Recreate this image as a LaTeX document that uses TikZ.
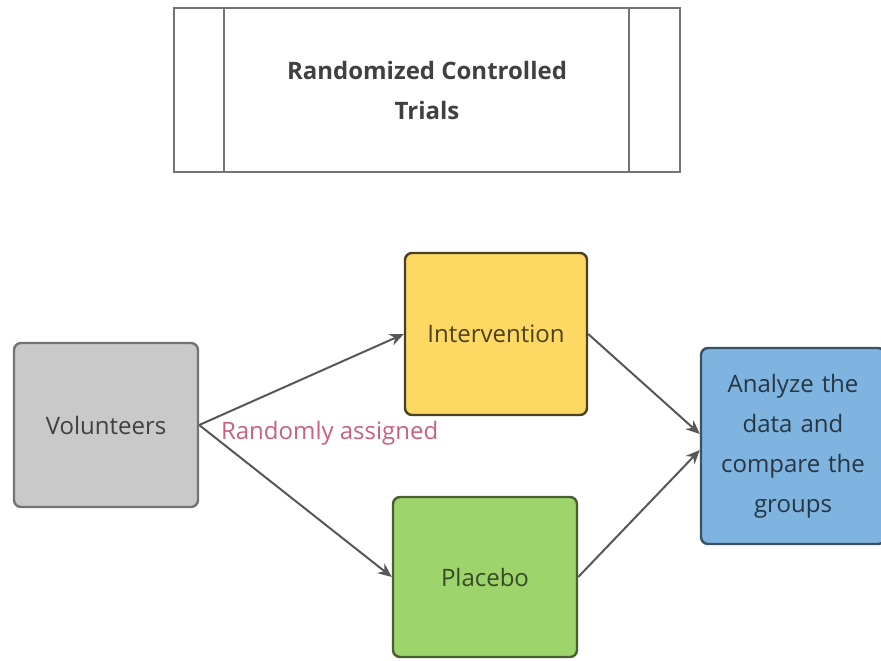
\documentclass[tikz,border=0pt]{standalone}
\usepackage{fontspec}
\setmainfont{Open Sans}
\usepackage{xcolor}
\usepackage{tikz}
\usetikzlibrary{shapes.geometric, arrows.meta}
\definecolor{volgray}{HTML}{C9C9C9}
\definecolor{intyellow}{HTML}{FDD964}
\definecolor{plagreen}{HTML}{9DD46C}
\definecolor{anablue}{HTML}{7FB3E0}
\definecolor{edgegray}{HTML}{575757}
\definecolor{assignpink}{HTML}{C8607E}
\tikzstyle{titlebox} = [rectangle,
    minimum width=253pt,
    minimum height=82pt,
    text centered,
    align=center,
    line width=1.1pt,
    draw=black!55,
    text=black!75,
    font=\bfseries\fontsize{12}{20}\selectfont]
\tikzstyle{group} = [rectangle,
    rounded corners=3.5pt,
    line width=1.2pt,
    text centered,
    align=center,
    font=\fontsize{12}{20}\selectfont]
\tikzstyle{arrow} = [line width=1pt, draw=edgegray, -{Stealth[length=7pt, width=6pt]}]

\begin{document}
\begin{tikzpicture}[x=0.5pt, y=-0.5pt]
        \useasboundingbox (0,0) rectangle (881,660);

        \node (trials) [titlebox] at (427,90) {Randomized Controlled\\Trials};
        \draw [line width=1.1pt, draw=black!55] ([xshift=25.5pt]trials.north west) -- ([xshift=25.5pt]trials.south west);
        \draw [line width=1.1pt, draw=black!55] ([xshift=-26pt]trials.north east) -- ([xshift=-26pt]trials.south east);

        \node (volunteers) [group, fill=volgray, draw=black!55, text=black!75,
            minimum width=92pt, minimum height=82pt] at (106,425) {Volunteers};
        \node (intervention) [group, fill=intyellow, draw=black!50!intyellow!60!black, text=black!70!intyellow,
            minimum width=91pt, minimum height=81pt] at (496,334) {Intervention};
        \node (placebo) [group, fill=plagreen, draw=plagreen!45!black, text=plagreen!35!black,
            minimum width=92pt, minimum height=80pt] at (485,577) {Placebo};
        \node (analyze) [group, fill=anablue, draw=anablue!45!black, text=anablue!30!black,
            minimum width=92pt, minimum height=98pt, text width=80pt] at (793,446) {Analyze the\\data and\\compare the\\groups};

        \node (assigned) [text=assignpink, font=\fontsize{12}{14}\selectfont, anchor=west]
            at (214,433) {Randomly assigned};

        \draw [arrow] (volunteers.east) -- (intervention.west);
        \draw [arrow] (volunteers.east) -- (placebo.west);
        \draw [arrow] (intervention.east) -- ([yshift=6pt]analyze.west);
        \draw [arrow] (placebo.east) -- ([yshift=-2pt]analyze.west);
    \end{tikzpicture}
\end{document}
